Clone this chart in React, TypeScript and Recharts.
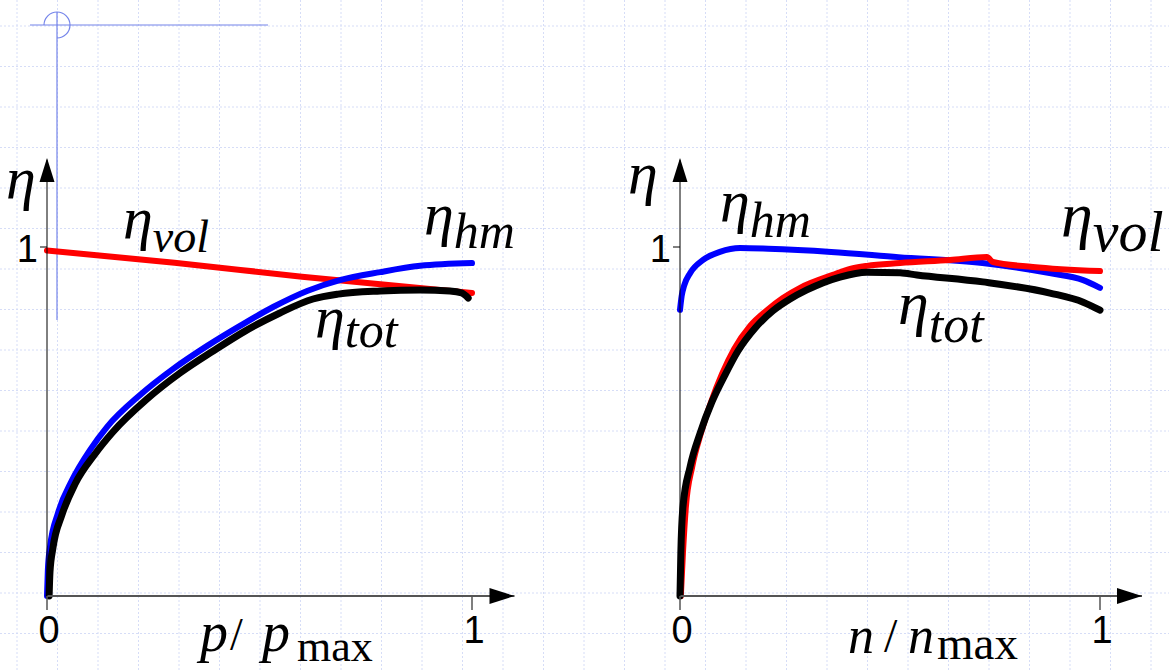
import { LineChart, Line, XAxis, YAxis } from "recharts";

// shared axis ticks
const xTicks = [0, 1];
const yTicks = [1];

// left panel: efficiency over p / p_max  ([x, eta])
const pVol: [number, number][] = [
  [0, 0.99], [0.3, 0.955], [0.6, 0.915], [1.0, 0.868],
];
const pHm: [number, number][] = [
  [0, 0], [0.002, 0.074], [0.007, 0.14], [0.026, 0.238], [0.059, 0.332], [0.101, 0.418],
  [0.141, 0.484], [0.219, 0.576], [0.296, 0.65], [0.376, 0.716], [0.454, 0.774], [0.532, 0.828],
  [0.612, 0.874], [0.689, 0.905], [0.784, 0.928], [0.878, 0.946], [1.0, 0.954],
];
const pTot: [number, number][] = [
  [0.005, 0], [0.007, 0.069], [0.014, 0.138], [0.035, 0.232], [0.066, 0.321], [0.113, 0.407],
  [0.155, 0.47], [0.235, 0.564], [0.313, 0.639], [0.391, 0.702], [0.466, 0.759], [0.548, 0.811],
  [0.626, 0.851], [0.685, 0.865], [0.784, 0.874], [0.878, 0.877], [0.948, 0.874], [0.976, 0.868],
  [0.991, 0.854],
];

// right panel: efficiency over n / n_max
const nHm: [number, number][] = [
  [0, 0.82], [0.004, 0.86], [0.01, 0.89], [0.024, 0.925], [0.055, 0.963], [0.095, 0.986],
  [0.143, 0.997], [0.21, 0.995], [0.36, 0.986], [0.52, 0.971], [0.72, 0.954], [0.88, 0.925],
  [0.96, 0.905], [1.0, 0.883],
];
const nVol: [number, number][] = [
  [0.002, 0], [0.007, 0.123], [0.014, 0.255], [0.029, 0.37], [0.05, 0.467], [0.074, 0.556],
  [0.1, 0.636], [0.129, 0.708], [0.167, 0.774], [0.207, 0.819], [0.245, 0.854], [0.286, 0.883],
  [0.364, 0.92], [0.405, 0.937], [0.445, 0.946], [0.524, 0.954], [0.643, 0.963], [0.731, 0.971],
  [0.745, 0.957], [0.84, 0.943], [1.0, 0.931],
];
const nTot: [number, number][] = [
  [0, 0], [0.002, 0.123], [0.007, 0.255], [0.024, 0.37], [0.048, 0.467], [0.076, 0.556],
  [0.107, 0.633], [0.138, 0.702], [0.179, 0.768], [0.221, 0.817], [0.262, 0.851], [0.302, 0.877],
  [0.381, 0.914], [0.445, 0.928], [0.524, 0.926], [0.564, 0.92], [0.721, 0.9], [0.881, 0.868],
  [0.96, 0.842], [1.0, 0.819],
];

const W = 1169;
const H = 671;
const Y0 = 596; // x-axis baseline
const UNIT_Y = 349; // px per eta = 1
const X_MAX = 1.1;
const Y_MAX = 1.25;
const AXIS_W = 40;
const AXIS_H = 30;
const TICK_FONT = 38;

const toPts = (arr: [number, number][]) => arr.map(([x, y]) => ({ x, y }));

const serif = "'Liberation Serif', 'Times New Roman', serif";
const sans = "'Liberation Sans', Arial, sans-serif";

type Series = { name: string; pts: [number, number][]; color: string; width: number };

function XTick(props: any) {
  const { x, y, payload } = props;
  return (
    <text x={x + 2} y={y - 2} dy="0.71em" textAnchor="middle" fontSize={TICK_FONT} fontFamily={sans} fill="#000">
      {payload.value}
    </text>
  );
}

function YTick(props: any) {
  const { x, y, payload } = props;
  return (
    <text x={x} y={y + 2} dy="0.355em" textAnchor="end" fontSize={TICK_FONT} fontFamily={sans} fill="#000">
      {payload.value}
    </text>
  );
}

function Panel({ left, width, x0, unitX, series }: { left: number; width: number; x0: number; unitX: number; series: Series[] }) {
  const plotLeft = x0 - left;
  const plotW = X_MAX * unitX;
  const top = Y0 - Y_MAX * UNIT_Y;
  return (
    <div style={{ position: "absolute", left, top: 0 }}>
      <LineChart
        width={width}
        height={H}
        margin={{
          top,
          left: plotLeft - AXIS_W,
          right: width - plotLeft - plotW,
          bottom: H - Y0 - AXIS_H,
        }}
      >
        <XAxis
          type="number"
          dataKey="x"
          domain={[0, X_MAX]}
          ticks={xTicks}
          interval={0}
          height={AXIS_H}
          axisLine={{ stroke: "#555", strokeWidth: 2 }}
          tickLine={{ stroke: "#555", strokeWidth: 1.5 }}
          tickSize={14}
          tickMargin={8}
          tick={<XTick />}
        />
        <YAxis
          type="number"
          domain={[0, Y_MAX]}
          ticks={yTicks}
          interval={0}
          width={AXIS_W}
          axisLine={{ stroke: "#000", strokeWidth: 1 }}
          tickLine={{ stroke: "#000", strokeWidth: 1 }}
          tickSize={7}
          tickMargin={2}
          tick={<YTick />}
        />
        {series.map((s) => (
          <Line
            key={s.name}
            data={toPts(s.pts)}
            dataKey="y"
            name={s.name}
            type="monotone"
            stroke={s.color}
            strokeWidth={s.width}
            strokeLinecap="round"
            strokeLinejoin="round"
            dot={false}
            activeDot={false}
            isAnimationActive={false}
          />
        ))}
      </LineChart>
    </div>
  );
}

function Eta({ x, y, sub, size = 60, subSize = 46, drop = 14 }: { x: number; y: number; sub?: string; size?: number; subSize?: number; drop?: number }) {
  return (
    <text x={x} y={y} fontFamily={serif} fontStyle="italic" fill="#000">
      <tspan fontSize={size}>η</tspan>
      {sub && (
        <tspan fontSize={subSize} dy={drop}>
          {sub}
        </tspan>
      )}
    </text>
  );
}

function Arrows({ x0, unitX }: { x0: number; unitX: number }) {
  const tipY = Y0 - 1.255 * UNIT_Y;
  const tipX = x0 + X_MAX * unitX;
  return (
    <g fill="#000">
      <polygon points={`${x0},${tipY} ${x0 - 7.5},${tipY + 24} ${x0 + 7.5},${tipY + 24}`} />
      <polygon points={`${tipX},${Y0} ${tipX - 25},${Y0 - 8} ${tipX - 25},${Y0 + 8}`} />
    </g>
  );
}

export default function App() {
  const leftSeries: Series[] = [
    { name: "vol", pts: pVol, color: "#ff0000", width: 6 },
    { name: "hm", pts: pHm, color: "#0000ff", width: 6 },
    { name: "tot", pts: pTot, color: "#000000", width: 7 },
  ];
  const rightSeries: Series[] = [
    { name: "hm", pts: nHm, color: "#0000ff", width: 6 },
    { name: "vol", pts: nVol, color: "#ff0000", width: 6 },
    { name: "tot", pts: nTot, color: "#000000", width: 7 },
  ];

  return (
    <div style={{ position: "absolute", left: 0, top: 0, width: W, height: H, overflow: "hidden", background: "#fff" }}>
      {/* slide background grid + corner mark */}
      <svg width={W} height={H} style={{ position: "absolute", left: 0, top: 0 }}>
        {Array.from({ length: 29 }, (_, i) => 17 + i * 40.5).map((x) => (
          <line key={"v" + x} x1={x} y1={0} x2={x} y2={H} stroke="#d6ddf7" strokeDasharray="2 2" />
        ))}
        {Array.from({ length: 17 }, (_, i) => 26 + i * 40.5).map((y) => (
          <line key={"h" + y} x1={0} y1={y} x2={W} y2={y} stroke="#d6ddf7" strokeDasharray="2 2" />
        ))}
        <g stroke="#7484ea" strokeWidth={1.2} fill="none">
          <line x1={30} y1={25} x2={268} y2={25} />
          <line x1={57} y1={12} x2={57} y2={320} />
          <path d="M 44 25 A 13 13 0 1 1 57 38" />
        </g>
      </svg>

      <Panel left={0} width={560} x0={47} unitX={425} series={leftSeries} />
      <Panel left={600} width={569} x0={680} unitX={420} series={rightSeries} />

      <svg width={W} height={H} style={{ position: "absolute", left: 0, top: 0, pointerEvents: "none" }}>
        <Arrows x0={47} unitX={425} />
        <Arrows x0={680} unitX={420} />

        {/* axis names */}
        <Eta x={6} y={198} />
        <Eta x={628} y={193} />

        {/* curve labels, left */}
        <Eta x={123} y={238} sub="vol" />
        <Eta x={424} y={234} sub="hm" subSize={50} />
        <Eta x={315} y={337} sub="tot" subSize={50} drop={10} />

        {/* curve labels, right */}
        <Eta x={720} y={221} sub="hm" subSize={50} drop={16} />
        <Eta x={898} y={324} sub="tot" size={62} subSize={52} drop={18} />
        <Eta x={1061} y={236} sub="vol" size={64} subSize={58} drop={15} />

        {/* x axis titles */}
        <g fontFamily={serif} fill="#000">
          <text x={200} y={651} fontSize={56} fontStyle="italic">p</text>
          <text x={230} y={650} fontSize={46}>/</text>
          <text x={262} y={651} fontSize={56} fontStyle="italic">p</text>
          <text x={297} y={661} fontSize={44}>max</text>

          <text x={848} y={653} fontSize={52} fontStyle="italic">n</text>
          <text x={884} y={652} fontSize={48}>/</text>
          <text x={908} y={653} fontSize={52} fontStyle="italic">n</text>
          <text x={937} y={659} fontSize={47}>max</text>
        </g>
      </svg>
    </div>
  );
}
